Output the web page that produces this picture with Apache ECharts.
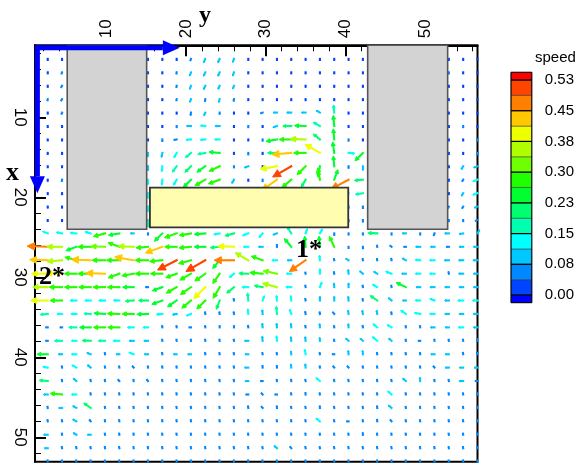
<!DOCTYPE html>
<html><head><meta charset="utf-8">
<script src="https://cdn.jsdelivr.net/npm/echarts@6/dist/echarts.min.js"></script>
<style>html,body{margin:0;padding:0;background:#fff}#c{width:577px;height:465px}</style>
</head><body><div id="c"></div>
<script>
const N = null;
// grid point coordinates (y = horizontal, x = vertical downward)
const Y_COLS = [2.6,4.4,6.2,8.0,9.8,11.6,13.4,15.2,17.0,18.8,20.6,22.4,24.2,26.0,27.8,29.6,31.4,33.2,35.0,36.8,38.6,40.4,42.2,44.0,45.8,47.6,49.4,51.2,53.0,54.8,56.6];
const X_ROWS = [2.7,4.38,6.06,7.73,9.41,11.09,12.77,14.45,16.12,17.8,19.48,21.16,22.84,24.51,26.19,27.87,29.55,31.23,32.9,34.58,36.26,37.94,39.62,41.29,42.97,44.65,46.33,48.01,49.68,51.36,53.04];
// speed per grid point (null = inside an obstacle)
const SPEED = [
[.03,.03,N,N,N,N,N,.03,.03,.03,.05,.10,.10,.09,.03,.03,.03,.03,.03,.03,.03,.03,.03,N,N,N,N,N,.03,.03,.03],
[.03,.04,N,N,N,N,N,.03,.03,.04,.09,.10,.10,.09,.03,.03,.03,.03,.03,.03,.03,.03,.03,N,N,N,N,N,.04,.03,.03],
[.03,.05,N,N,N,N,N,.03,.03,.04,.09,.10,.09,.08,.03,.03,.03,.03,.03,.03,.03,.03,.03,N,N,N,N,N,.03,.03,.03],
[.04,.05,N,N,N,N,N,.03,.03,.04,.08,.06,.08,.05,.03,.03,.03,.03,.03,.03,.03,.03,.03,N,N,N,N,N,.03,.03,.03],
[.03,.04,N,N,N,N,N,.03,.03,.03,.07,.08,.04,.03,.03,.05,.09,.11,.10,.10,.18,.03,.03,N,N,N,N,N,.03,.03,.03],
[.03,.03,N,N,N,N,N,.03,.03,.04,.11,.12,.11,.03,.04,.03,.10,.20,.26,.18,.25,.03,.03,N,N,N,N,N,.03,.04,.03],
[.03,.03,N,N,N,N,N,.03,.05,.07,.12,.12,.12,.03,.03,.04,.26,.28,.36,.20,.25,.04,.03,N,N,N,N,N,.03,.03,.04],
[.03,.03,N,N,N,N,N,.10,.11,.13,.17,.18,.25,.03,.05,.03,.22,.45,.28,.40,.26,.15,.26,N,N,N,N,N,.03,.03,.05],
[.03,.03,N,N,N,N,N,.11,.13,.17,.20,.24,.27,.04,.10,.03,.40,.50,.28,.26,.24,.05,.10,N,N,N,N,N,.03,.09,.10],
[.03,.04,N,N,N,N,N,.12,.13,.15,.25,.28,.28,.10,.03,.05,.43,.28,.20,.28,.25,.46,.20,N,N,N,N,N,.03,.05,.12],
[.03,.03,N,N,N,N,N,.13,N,N,N,N,N,N,N,N,N,N,N,N,N,.15,.18,N,N,N,N,N,.03,.08,.12],
[.03,.03,N,N,N,N,N,.13,N,N,N,N,N,N,N,N,N,N,N,N,N,.04,.05,N,N,N,N,N,.04,.05,.08],
[.03,.03,N,N,N,N,N,.17,N,N,N,N,N,N,N,N,N,N,N,N,N,.04,.05,N,N,N,N,N,.04,.04,.06],
[.13,.14,.15,.14,.28,.26,.08,.04,.26,.30,.28,.26,.14,.22,.15,.13,.10,.18,.12,.12,.05,.04,.04,.22,.04,.09,.04,.06,.10,.10,.10],
[.48,.36,.26,.30,.33,.28,.36,.28,.42,.28,.28,.26,.22,.38,.12,.10,.06,.25,.25,.25,.27,.04,.05,.04,.05,.05,.11,.10,.06,.10,.10],
[.42,.35,.28,.45,.30,.30,.45,.30,.30,.50,.30,.52,.25,.46,.35,.28,.12,.10,.46,.12,.04,.08,.04,.04,.05,.10,.12,.12,.11,.11,.11],
[.38,.38,.28,.30,.45,.28,.28,.30,.28,.27,.30,.30,.28,.14,.22,.30,.33,.12,.04,.12,.05,.10,.10,.10,.15,.10,.12,.12,.05,.11,.10],
[.35,.30,.28,.28,.28,.28,.26,.06,.25,.28,.30,.38,.30,.22,.15,.20,.35,.13,.05,.13,.10,.10,.05,.13,.05,.25,.10,.11,.10,.10,.10],
[.40,.28,.15,.14,.15,.14,.20,.22,.26,.26,.28,.28,.22,.05,.18,.12,.12,.12,.05,.10,.10,.10,.05,.20,.10,.08,.12,.12,.10,.13,.12],
[.18,.12,.13,.16,.26,.28,.27,.26,.14,.10,.12,.05,.05,.05,.12,.10,.18,.12,.06,.05,.06,.09,.09,.09,.05,.15,.14,.12,.10,.10,.10],
[.05,.05,.18,.26,.27,.27,.15,.12,.04,.04,.05,.04,.04,.04,.05,.10,.10,.10,.05,.09,.04,.09,.05,.13,.12,.04,.04,.10,.09,.12,.10],
[.05,.18,.12,.20,.16,.15,.11,.10,.04,.04,.04,.04,.04,.04,.09,.11,.12,.10,.10,.08,.04,.09,.09,.15,.09,.04,.05,.04,.04,.04,.05],
[.25,.09,.12,.10,.04,.08,.12,.09,.04,.08,.08,.04,.04,.04,.08,.04,.04,.08,.12,.04,.05,.09,.09,.04,.04,.04,.04,.09,.09,.05,.05],
[.12,.04,.12,.10,.04,.04,.05,.04,.04,.04,.04,.04,.04,.04,.09,.05,.05,.09,.09,.04,.05,.05,.04,.04,.04,.04,.04,.05,.09,.09,.08],
[.20,.04,.10,.04,.04,.05,.04,.05,.04,.04,.04,.04,.04,.04,.08,.05,.04,.04,.04,.12,.04,.04,.04,.04,.04,.10,.09,.04,.04,.10,.06],
[.10,.28,.12,.04,.04,.04,.04,.04,.04,.04,.04,.04,.04,.04,.06,.05,.05,.04,.05,.04,.04,.04,.04,.04,.12,.04,.04,.04,.04,.04,.04],
[.04,.08,.10,.20,.04,.04,.04,.04,.04,.04,.04,.04,.04,.04,.05,.05,.05,.04,.04,.05,.04,.04,.04,.05,.10,.04,.04,.04,.04,.04,.04],
[.04,.04,.10,.05,.04,.04,.04,.04,.04,.04,.04,.04,.04,.04,.04,.04,.04,.04,.04,.12,.04,.05,.04,.05,.05,.04,.04,.04,.04,.04,.04],
[.10,.04,.09,.08,.04,.04,.04,.04,.04,.04,.04,.04,.04,.04,.04,.04,.04,.04,.04,.04,.04,.04,.05,.04,.04,.04,.04,.04,.04,.04,.04],
[.08,.04,.04,.04,.04,.04,.04,.04,.04,.04,.04,.04,.04,.04,.04,.04,.09,.05,.04,.04,.04,.04,.04,.04,.04,.04,.04,.04,.04,.04,.04],
[.04,.04,.04,.04,.04,.04,.04,.04,.04,.04,.04,.04,.04,.04,.04,.04,.04,.04,.04,.04,.04,.04,.04,.04,.04,.04,.04,.04,.04,.04,.04]
];
// direction in degrees on screen (0 = right, 90 = up, 180 = left, 270 = down)
const ANGLE = [
[270,270,0,0,0,0,0,270,270,270,250,245,245,250,270,270,270,270,270,270,270,270,270,0,0,0,0,0,270,270,270],
[270,250,0,0,0,0,0,270,270,260,250,245,245,250,270,270,270,270,270,270,270,270,270,0,0,0,0,0,270,270,270],
[270,240,0,0,0,0,0,270,270,260,250,245,245,250,270,270,270,270,270,270,270,270,270,0,0,0,0,0,270,270,270],
[260,240,0,0,0,0,0,270,270,260,250,260,255,260,270,270,270,270,270,270,270,270,270,0,0,0,0,0,270,270,270],
[270,250,0,0,0,0,0,270,270,270,260,245,270,270,270,200,180,180,180,150,95,270,270,0,0,0,0,0,270,270,270],
[270,270,0,0,0,0,0,270,270,270,180,175,180,270,270,270,200,180,178,150,95,270,270,0,0,0,0,0,270,270,270],
[270,270,0,0,0,0,0,270,270,190,185,185,180,270,270,270,190,180,178,140,95,270,270,0,0,0,0,0,270,270,270],
[270,270,0,0,0,0,0,265,260,240,220,190,175,270,270,270,180,185,180,150,98,355,225,0,0,0,0,0,270,270,270],
[270,270,0,0,0,0,0,270,265,235,225,215,205,270,200,270,190,210,225,260,95,270,270,0,0,0,0,0,270,240,200],
[270,260,0,0,0,0,0,270,265,240,225,210,200,240,270,270,215,220,240,100,70,208,185,0,0,0,0,0,270,240,200],
[270,270,0,0,0,0,0,270,0,0,0,0,0,0,0,0,0,0,0,0,0,200,190,0,0,0,0,0,270,240,200],
[270,270,0,0,0,0,0,270,0,0,0,0,0,0,0,0,0,0,0,0,0,270,270,0,0,0,0,0,240,240,200],
[270,270,0,0,0,0,0,270,0,0,0,0,0,0,0,0,0,0,0,0,0,270,270,0,0,0,0,0,270,270,200],
[160,170,175,165,195,190,180,270,225,200,190,185,190,195,200,230,200,120,70,60,270,270,270,178,270,180,270,250,180,190,60],
[178,180,200,180,178,160,178,185,200,180,185,180,185,178,180,180,90,130,95,95,115,270,270,100,140,180,180,180,180,180,180],
[178,185,165,178,180,180,170,180,185,207,195,210,230,180,150,160,180,180,215,95,100,150,100,100,100,150,175,180,180,180,180],
[180,178,180,180,178,200,190,180,180,200,210,215,235,220,178,175,168,180,100,90,100,95,140,150,160,180,180,180,100,180,180],
[180,180,180,180,180,180,180,180,200,210,215,225,240,220,180,170,165,180,100,70,95,90,100,150,100,155,180,180,180,180,180],
[180,180,180,180,180,178,185,180,200,215,220,225,250,100,95,70,95,95,100,90,90,95,100,145,140,180,178,160,180,180,180],
[185,180,180,178,176,178,180,182,185,190,200,100,100,100,95,95,95,110,100,100,130,100,100,100,100,145,170,180,180,180,180],
[180,180,180,180,180,180,180,180,100,100,180,100,90,90,100,95,95,95,100,95,100,95,100,140,150,100,100,180,180,180,180],
[180,180,180,178,180,180,180,180,100,100,100,100,100,100,180,95,95,95,95,95,100,140,140,140,140,100,180,100,100,100,100],
[180,180,180,160,100,180,160,180,100,180,180,100,100,100,180,100,100,95,100,100,180,95,95,100,100,100,100,180,180,100,100],
[170,100,150,140,100,100,130,100,100,100,100,100,100,100,180,95,95,95,95,100,130,130,100,100,100,100,100,130,180,180,180],
[175,100,140,100,100,130,100,130,100,100,100,100,100,100,180,180,100,100,100,140,100,100,100,100,100,140,95,100,100,180,180],
[180,175,180,100,100,100,100,100,100,100,100,100,100,100,180,130,180,100,95,100,100,100,100,100,140,100,100,100,100,100,100],
[100,180,150,145,100,100,100,100,100,100,100,100,100,100,100,130,95,100,100,95,100,100,100,95,140,100,100,100,100,100,100],
[100,100,150,130,100,100,100,100,100,100,100,100,100,100,100,100,100,100,100,140,100,180,100,95,130,100,100,100,100,100,100],
[180,100,150,180,100,100,100,100,100,100,100,100,100,100,100,100,100,100,100,100,100,100,95,100,100,100,100,100,100,100,100],
[180,100,100,100,100,100,100,100,100,100,100,100,100,100,100,100,140,130,100,100,100,100,100,100,100,100,100,100,100,100,100],
[100,100,100,100,100,100,100,100,100,100,100,100,100,100,100,100,100,100,100,100,100,100,100,100,100,100,100,100,100,100,100]
];
// obstacles: [yStart, yEnd, xStart, xEnd]
const GRAY_BLOCKS = [[5.05,15.03,1,24],[42.8,52.85,1,24]];
const YELLOW_BLOCKS = [[15.44,40.36,18.8,23.75]];
// colour legend
const LEVELS = [-0.0189,0,0.0379,0.0757,0.1136,0.1514,0.1893,0.2271,0.265,0.3028,0.3407,0.3785,0.4164,0.4542,0.4921,0.5299,0.5489];
const LEVEL_COLORS = ['#0000FF','#0044FF','#0088FF','#00C8FF','#00FFFF','#00FFB0','#00FF70','#00FF30','#20FF00','#70FF00','#B0FF00','#EEFF00','#FFC800','#FF8000','#FF4400','#FF0000'];
const LEGEND_TICKS = [0,0.0757,0.1514,0.2271,0.3028,0.3785,0.4542,0.5299];
const MAJOR_TICKS = [10,20,30,40,50];
const MINOR_TICKS_Y = [2,4,6,8,12,14,16,18,22,24,26,28,32,34,36,38,42,44,46,48,52,54,56];
const MINOR_TICKS_X = [2,4,6,8,12,14,16,18,22,24,26,28,32,34,36,38,42,44,46,48,52];
// direction arrows of the axes: [yStart, xStart, yEnd, xEnd]
const AXIS_ARROWS = [[1,1.3,19.2,1.3],[1.3,1,1.3,19.5]];

const vectors = [];
for (let i = 0; i < X_ROWS.length; i++) {
  for (let j = 0; j < Y_COLS.length; j++) {
    const s = SPEED[i][j];
    if (s === null) continue;
    vectors.push([Y_COLS[j], X_ROWS[i], s, ANGLE[i][j]]);
  }
}
const bands = [];
for (let k = 0; k < LEVEL_COLORS.length; k++) bands.push([LEVELS[k], LEVELS[k+1], k]);

const ARROW_SCALE = 43;
const serifFont = "'Liberation Serif','Times New Roman',serif";
const sansFont = "'Liberation Sans',Arial,sans-serif";

const chart = echarts.init(document.getElementById('c'), null, {renderer:'canvas'});
const pieces = [];
for (let k = 0; k < LEVEL_COLORS.length; k++) pieces.push({gte: LEVELS[k], lt: LEVELS[k+1], color: LEVEL_COLORS[k]});

function blockRender(fill, stroke, lw) {
  return function (params, api) {
    const p0 = api.coord([api.value(0), api.value(2)]);
    const p1 = api.coord([api.value(1), api.value(3)]);
    return {type:'rect', shape:{x:p0[0], y:p0[1], width:p1[0]-p0[0], height:p1[1]-p0[1]},
      style:{fill:fill, stroke:stroke, lineWidth:lw}};
  };
}

chart.setOption({
  animation:false,
  backgroundColor:'#fff',
  grid:[
    {left:35, top:45.3, width:442.5, height:416.4, show:true, borderColor:'#000', borderWidth:2, backgroundColor:'transparent'},
    {left:511, top:80, width:22.5, height:215, show:false}
  ],
  xAxis:[
    {gridIndex:0, type:'value', position:'top', min:1, max:56.6,
     axisLine:{show:true, lineStyle:{color:'#000', width:2}},
     axisTick:{show:true, inside:true, length:11, lineStyle:{color:'#000', width:2}, customValues:MAJOR_TICKS},
     axisLabel:{show:true, customValues:MAJOR_TICKS, rotate:-90, fontSize:17, color:'#000', margin:7, fontFamily:sansFont},
     splitLine:{show:false}},
    {gridIndex:0, type:'value', position:'top', min:1, max:56.6,
     axisLine:{show:false},
     axisTick:{show:true, inside:true, length:6, lineStyle:{color:'#000', width:1}, customValues:MINOR_TICKS_Y},
     axisLabel:{show:false}, splitLine:{show:false}},
    {gridIndex:1, type:'value', min:0, max:1, show:false}
  ],
  yAxis:[
    {gridIndex:0, type:'value', position:'left', inverse:true, min:1, max:53.05,
     axisLine:{show:true, lineStyle:{color:'#000', width:2}},
     axisTick:{show:true, inside:true, length:11, lineStyle:{color:'#000', width:2}, customValues:MAJOR_TICKS},
     axisLabel:{show:true, customValues:MAJOR_TICKS, rotate:-90, fontSize:17, color:'#000', margin:7, fontFamily:sansFont},
     splitLine:{show:false}},
    {gridIndex:0, type:'value', position:'left', inverse:true, min:1, max:53.05,
     axisLine:{show:false},
     axisTick:{show:true, inside:true, length:6, lineStyle:{color:'#000', width:1}, customValues:MINOR_TICKS_X},
     axisLabel:{show:false}, splitLine:{show:false}},
    {gridIndex:1, type:'value', position:'right', min:0, max:0.5299,
     axisLine:{show:false}, axisTick:{show:false}, splitLine:{show:false},
     axisLabel:{show:true, customValues:LEGEND_TICKS, formatter:function(v){return v.toFixed(2);}, fontSize:15, color:'#000', margin:13, fontFamily:sansFont}}
  ],
  visualMap:{type:'piecewise', show:false, seriesIndex:0, dimension:2, pieces:pieces},
  series:[
    {type:'custom', name:'velocity', xAxisIndex:0, yAxisIndex:0, clip:false, z:3, data:vectors,
     renderItem:function(params, api){
       const p = api.coord([api.value(0), api.value(1)]);
       const s = api.value(2), a = api.value(3) * Math.PI / 180;
       const L = Math.max(s * ARROW_SCALE, 1.5);
       const dx = Math.cos(a), dy = -Math.sin(a);
       const ex = p[0] + dx * L, ey = p[1] + dy * L;
       const hl = L * 0.36, hw = L * 0.18;
       const bx = ex - dx * hl, by = ey - dy * hl;
       const color = api.visual('color');
       return {type:'group', children:[
         {type:'line', shape:{x1:p[0], y1:p[1], x2:bx, y2:by}, style:{stroke:color, lineWidth:2.1, lineCap:'square'}},
         {type:'polygon', shape:{points:[[ex,ey],[bx - dy*hw, by + dx*hw],[bx + dy*hw, by - dx*hw]]}, style:{fill:color, stroke:color, lineWidth:1}}
       ]};
     }},
    {type:'custom', name:'gray', xAxisIndex:0, yAxisIndex:0, clip:true, z:4, data:GRAY_BLOCKS,
     renderItem:blockRender('#D3D3D3', '#555', 1.6)},
    {type:'custom', name:'yellow', xAxisIndex:0, yAxisIndex:0, clip:true, z:4, data:YELLOW_BLOCKS,
     renderItem:blockRender('#FFFDB0', '#333', 1.8)},
    {type:'custom', name:'axisArrows', xAxisIndex:0, yAxisIndex:0, clip:false, z:6, data:AXIS_ARROWS,
     renderItem:function(params, api){
       const p0 = api.coord([api.value(0), api.value(1)]);
       const p1 = api.coord([api.value(2), api.value(3)]);
       const len = Math.hypot(p1[0]-p0[0], p1[1]-p0[1]);
       const dx = (p1[0]-p0[0]) / len, dy = (p1[1]-p0[1]) / len;
       const hl = 17, hw = 7.5;
       const bx = p1[0] - dx*hl, by = p1[1] - dy*hl;
       return {type:'group', children:[
         {type:'line', shape:{x1:p0[0], y1:p0[1], x2:bx, y2:by}, style:{stroke:'#0000FF', lineWidth:5}},
         {type:'polygon', shape:{points:[[p1[0],p1[1]],[bx - dy*hw, by + dx*hw],[bx + dy*hw, by - dx*hw]]}, style:{fill:'#0000FF'}}
       ]};
     }},
    {type:'custom', name:'legendBands', xAxisIndex:2, yAxisIndex:2, clip:false, z:3, data:bands,
     renderItem:function(params, api){
       const p0 = api.coord([0, api.value(1)]);
       const p1 = api.coord([1, api.value(0)]);
       return {type:'rect', shape:{x:p0[0], y:p0[1], width:p1[0]-p0[0], height:p1[1]-p0[1]},
         style:{fill:LEVEL_COLORS[api.value(2)], stroke:'#333', lineWidth:0.5}};
     }},
    {type:'custom', name:'legendLines', xAxisIndex:2, yAxisIndex:2, clip:false, z:4, data:LEGEND_TICKS.map(function(v){return [v];}),
     renderItem:function(params, api){
       const p0 = api.coord([0, api.value(0)]);
       const p1 = api.coord([1, api.value(0)]);
       return {type:'line', shape:{x1:p0[0], y1:p0[1], x2:p1[0], y2:p1[1]}, style:{stroke:'#000', lineWidth:1.2}};
     }},
    {type:'custom', name:'legendFrame', xAxisIndex:2, yAxisIndex:2, clip:false, z:5, data:[[LEVELS[0], LEVELS[LEVELS.length-1]]],
     renderItem:function(params, api){
       const p0 = api.coord([0, api.value(1)]);
       const p1 = api.coord([1, api.value(0)]);
       return {type:'rect', shape:{x:p0[0], y:p0[1], width:p1[0]-p0[0], height:p1[1]-p0[1]},
         style:{fill:'none', stroke:'#000', lineWidth:1}};
     }}
  ],
  graphic:[
    {type:'text', left:199, top:4, z:10, style:{text:'y', font:"bold 24px " + serifFont, fill:'#000'}},
    {type:'text', left:6, top:160, z:10, style:{text:'x', font:"bold 26px " + serifFont, fill:'#000'}},
    {type:'text', left:296, top:237, z:10, style:{text:'1*', font:"bold 26px " + serifFont, fill:'#000'}},
    {type:'text', left:39, top:264, z:10, style:{text:'2*', font:"bold 26px " + serifFont, fill:'#000'}},
    {type:'text', left:535, top:50, z:10, style:{text:'speed', font:"15px " + sansFont, fill:'#000'}}
  ]
});
</script></body></html>
